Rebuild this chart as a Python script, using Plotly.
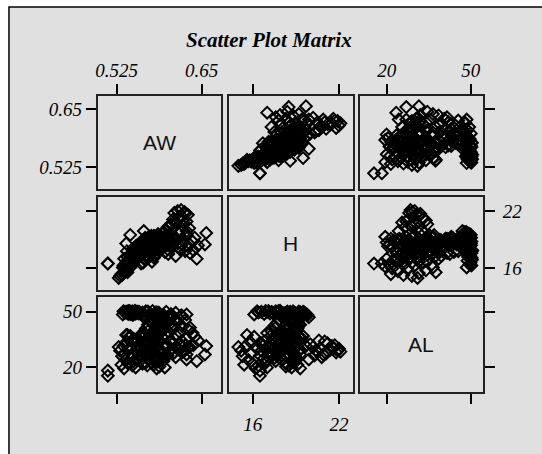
import plotly.graph_objects as go

# ---------------- data ----------------
var_names = ["AW", "H", "AL"]

aw = [
    # top band (AL ~ 47-51)
    0.545, 0.548, 0.541, 0.552, 0.546, 0.540, 0.550, 0.536, 0.543, 0.555, 0.538, 0.534,
    0.560, 0.568, 0.575, 0.583, 0.590, 0.598, 0.605, 0.612, 0.620, 0.628, 0.565, 0.578, 0.588, 0.600,
    0.547, 0.551, 0.544, 0.553, 0.558, 0.563, 0.571, 0.580, 0.549, 0.539, 0.542, 0.557, 0.566, 0.586, 0.594, 0.535,
    # right group (AL 34-48)
    0.615, 0.622, 0.630, 0.637, 0.626, 0.608, 0.640, 0.618, 0.633, 0.598, 0.612, 0.645, 0.638, 0.628,
    0.605, 0.612, 0.596, 0.621, 0.609, 0.601,
    # vertical column (H 18.2-19.4)
    0.570, 0.575, 0.580, 0.585, 0.590, 0.578, 0.572, 0.595, 0.588, 0.582, 0.600, 0.576, 0.592, 0.568,
    0.586, 0.598, 0.574, 0.605, 0.563, 0.593, 0.581, 0.566, 0.603, 0.579, 0.589, 0.571, 0.596, 0.584,
    0.577, 0.583, 0.569, 0.591, 0.586, 0.574, 0.598, 0.581, 0.567, 0.593, 0.579, 0.602, 0.585, 0.572,
    0.590, 0.597, 0.583, 0.576, 0.588, 0.580, 0.594, 0.571, 0.587, 0.599, 0.575, 0.584, 0.592, 0.578,
    # middle mass
    0.555, 0.560, 0.565, 0.570, 0.558, 0.552, 0.575, 0.562, 0.568, 0.548, 0.573, 0.556, 0.580, 0.564,
    0.550, 0.577, 0.585, 0.559, 0.546, 0.571, 0.588, 0.561,
    0.563, 0.569, 0.574, 0.558, 0.566, 0.579, 0.561, 0.572, 0.583, 0.557, 0.576, 0.568, 0.581, 0.554,
    0.587, 0.565,
    # lower-left group
    0.530, 0.535, 0.540, 0.545, 0.533, 0.538, 0.542, 0.548, 0.528, 0.537, 0.544, 0.550, 0.532, 0.546,
    0.553, 0.536, 0.541, 0.549,
    # high-H group
    0.610, 0.615, 0.620, 0.625, 0.618, 0.628, 0.605, 0.600, 0.598, 0.630, 0.622, 0.612, 0.622, 0.632,
    0.617, 0.608, 0.626, 0.613, 0.620, 0.603,
    # isolated points
    0.512, 0.512, 0.657, 0.628, 0.545, 0.643, 0.539, 0.655,
]
h = [
    17.4, 17.6, 17.2, 17.9, 17.5, 17.8, 18.1, 17.0, 16.8, 18.4, 16.4, 16.1,
    18.5, 18.8, 19.0, 19.3, 18.7, 19.5, 19.7, 19.2, 19.8, 19.6, 19.9, 17.8, 18.2, 18.0,
    17.3, 17.7, 17.1, 18.3, 18.6, 18.9, 19.2, 19.4, 17.9, 16.6, 16.9, 18.0, 18.4, 19.6, 19.8, 16.3,
    18.6, 19.0, 18.3, 18.8, 17.8, 19.3, 19.2, 18.0, 17.6, 18.5, 17.3, 18.4, 17.9, 19.4,
    18.2, 18.9, 17.7, 18.5, 19.1, 17.5,
    18.5, 18.8, 19.1, 18.3, 18.9, 19.2, 18.6, 18.4, 19.0, 18.7, 19.3, 18.2, 18.9, 19.1,
    18.5, 18.8, 19.2, 18.6, 18.3, 19.0, 18.4, 18.9, 19.2, 18.6, 18.3, 19.0, 18.7, 19.3,
    18.9, 19.0, 18.4, 19.3, 18.7, 18.5, 19.1, 18.8, 19.2, 18.6, 18.4, 19.0, 18.9, 18.6,
    19.2, 18.5, 18.8, 19.4, 18.3, 19.1, 18.7, 18.9, 19.3, 18.4, 19.0, 18.6, 19.1, 18.7,
    17.0, 17.3, 17.6, 17.9, 18.1, 16.8, 17.4, 17.7, 16.9, 17.2, 18.0, 17.5, 17.1, 16.6,
    17.8, 16.7, 17.6, 18.2, 17.0, 17.3, 17.9, 16.5,
    17.5, 17.8, 18.2, 17.2, 17.9, 18.4, 17.6, 17.1, 18.1, 17.4, 17.7, 18.3, 17.3, 17.8,
    18.0, 17.0,
    15.2, 15.5, 15.8, 16.1, 15.3, 15.7, 16.0, 16.4, 15.0, 15.9, 16.3, 16.6, 15.4, 16.8,
    17.0, 16.2, 15.6, 16.9,
    21.8, 22.0, 21.5, 21.9, 21.2, 20.9, 20.6, 20.3, 20.0, 21.6, 20.5, 20.8, 21.0, 20.2,
    21.4, 21.1, 21.7, 20.7, 22.1, 20.4,
    16.5, 16.5, 19.7, 19.9, 19.5, 17.0, 18.6, 18.5,
]
al = [
    49.5, 50.2, 49.0, 50.5, 48.6, 49.8, 49.2, 50.0, 48.8, 50.1, 49.6, 48.5,
    49.0, 50.2, 48.3, 49.7, 47.5, 50.0, 48.8, 49.4, 47.9, 48.5, 47.0, 50.4, 49.1, 47.2,
    49.8, 49.3, 50.3, 48.9, 50.0, 49.5, 50.1, 48.7, 48.2, 49.9, 50.4, 49.0, 47.8, 49.6, 48.4, 50.2,
    44.5, 42.0, 40.5, 38.5, 45.5, 43.0, 36.5, 39.0, 41.5, 45.8, 37.5, 34.5, 32.0, 35.5,
    47.5, 46.0, 44.0, 48.0, 41.0, 42.5,
    21.0, 23.0, 24.5, 26.0, 27.5, 29.0, 30.5, 32.0, 33.5, 35.0, 36.5, 38.0, 39.5, 41.0,
    42.5, 44.0, 45.5, 46.5, 22.0, 25.0, 28.0, 31.0, 34.0, 37.0, 40.0, 43.0, 20.0, 19.5,
    22.5, 24.0, 25.5, 27.0, 28.5, 30.0, 31.5, 33.0, 34.5, 36.0, 37.5, 39.0, 40.5, 42.0,
    43.5, 45.0, 46.5, 47.0, 20.5, 21.5, 23.5, 26.5, 29.5, 32.5, 35.5, 38.5, 41.5, 44.5,
    24.0, 26.0, 28.0, 30.0, 32.0, 34.0, 36.0, 38.0, 22.5, 27.0, 33.0, 30.5, 25.5, 29.0,
    35.5, 31.5, 23.5, 37.0, 31.0, 39.5, 28.5, 26.5,
    25.0, 27.0, 29.5, 31.0, 33.5, 35.0, 36.5, 28.0, 31.0, 34.5, 26.0, 37.5, 32.5, 29.5,
    24.5, 38.5,
    29.0, 31.5, 34.0, 36.5, 26.0, 24.0, 22.0, 21.0, 31.0, 27.5, 30.0, 33.0, 21.5, 25.0,
    20.0, 19.5, 37.5, 23.0,
    28.0, 30.0, 31.5, 29.0, 33.0, 27.0, 34.5, 26.5, 32.5, 30.5, 28.5, 25.5, 34.0, 31.0,
    29.5, 27.5, 32.0, 30.5, 28.5, 29.0,
    15.5, 18.3, 31.5, 24.3, 36.9, 23.4, 37.4, 27.0,
]

tick_values = {"AW": [0.525, 0.65], "H": [16, 22], "AL": [20, 50]}
tick_labels = {"AW": ["0.525", "0.65"], "H": ["16", "22"], "AL": ["20", "50"]}

# ---------------- styling / layout ----------------
W, H_PX = 542, 454
BG = "#e0e0e0"
data = {"AW": aw, "H": h, "AL": al}

x_range = {"AW": [0.497, 0.679], "H": [14.36, 22.95], "AL": [10.4, 54.4]}
y_range = {"AW": [0.478, 0.679], "H": [13.74, 23.46], "AL": [6.8, 57.9]}

col_px = [(96, 220), (228, 352), (359, 483)]
row_px = [(96, 189), (197, 290), (297, 392)]
xdom = [[a / W, b / W] for a, b in col_px]
ydom = [[1 - b / H_PX, 1 - a / H_PX] for a, b in row_px]

tickfont = dict(family="Liberation Serif", size=19, color="black", style="italic")

fig = go.Figure()
layout = dict(
    width=W, height=H_PX,
    margin=dict(l=0, r=0, t=0, b=0),
    paper_bgcolor="white",
    plot_bgcolor="white",
    showlegend=False,
)
shapes = [
    dict(type="rect", xref="paper", yref="paper", x0=7 / W, x1=1.05, y0=-0.05, y1=1 - 7 / H_PX,
         fillcolor=BG, line=dict(color="black", width=1.5), layer="below"),
]
annotations = [
    dict(text="<b><i>Scatter Plot Matrix</i></b>", xref="paper", yref="paper",
         x=268 / W, y=1 - 40 / H_PX, xanchor="center", yanchor="middle", showarrow=False,
         font=dict(family="Liberation Serif", size=21, color="black")),
]

for r in range(3):
    for c in range(3):
        k = r * 3 + c + 1
        sfx = "" if k == 1 else str(k)
        xv, yv = var_names[c], var_names[r]
        if r != c:
            fig.add_trace(go.Scatter(
                x=data[xv], y=data[yv], mode="markers",
                marker=dict(symbol="diamond-open", size=9, color="black",
                            line=dict(width=2, color="black")),
                xaxis="x" + sfx, yaxis="y" + sfx, hoverinfo="skip", showlegend=False))
        else:
            fig.add_trace(go.Scatter(x=[], y=[], mode="markers",
                                     xaxis="x" + sfx, yaxis="y" + sfx, showlegend=False))
            shapes.append(dict(type="rect", xref="x" + sfx + " domain", yref="y" + sfx + " domain",
                               x0=0, x1=1, y0=0, y1=1, fillcolor=BG, line=dict(width=0),
                               layer="below"))
            annotations.append(dict(text=xv, xref="x" + sfx + " domain", yref="y" + sfx + " domain",
                                    x=0.5, y=0.5, showarrow=False,
                                    font=dict(family="Liberation Sans", size=21, color="#111")))
        xa = dict(
            domain=xdom[c], anchor="y" + sfx, range=x_range[xv],
            tickvals=tick_values[xv], ticktext=tick_labels[xv],
            side="top" if r == 0 else "bottom",
            ticks="outside" if r in (0, 2) else "",
            showticklabels=(r == 0 and c in (0, 2)) or (r == 2 and c == 1),
            ticklen=10, tickwidth=1.5, tickcolor="black",
            ticklabelstandoff=0 if r == 0 else 4,
            showline=True, mirror=True, linecolor="#222", linewidth=1.5,
            showgrid=False, zeroline=False, tickfont=tickfont, fixedrange=True,
        )
        ya = dict(
            domain=ydom[r], anchor="x" + sfx, range=y_range[yv],
            tickvals=tick_values[yv], ticktext=tick_labels[yv],
            side="left" if c == 0 else "right",
            ticks="outside" if c in (0, 2) else "",
            showticklabels=(c == 0 and r in (0, 2)) or (c == 2 and r == 1),
            ticklen=10, tickwidth=1.5, tickcolor="black",
            ticklabelstandoff=0 if c == 0 else 4,
            showline=True, mirror=True, linecolor="#222", linewidth=1.5,
            showgrid=False, zeroline=False, tickfont=tickfont, fixedrange=True,
        )
        layout["xaxis" + sfx] = xa
        layout["yaxis" + sfx] = ya

layout["shapes"] = shapes
layout["annotations"] = annotations
fig.update_layout(**layout)
fig.write_html("out.html")
